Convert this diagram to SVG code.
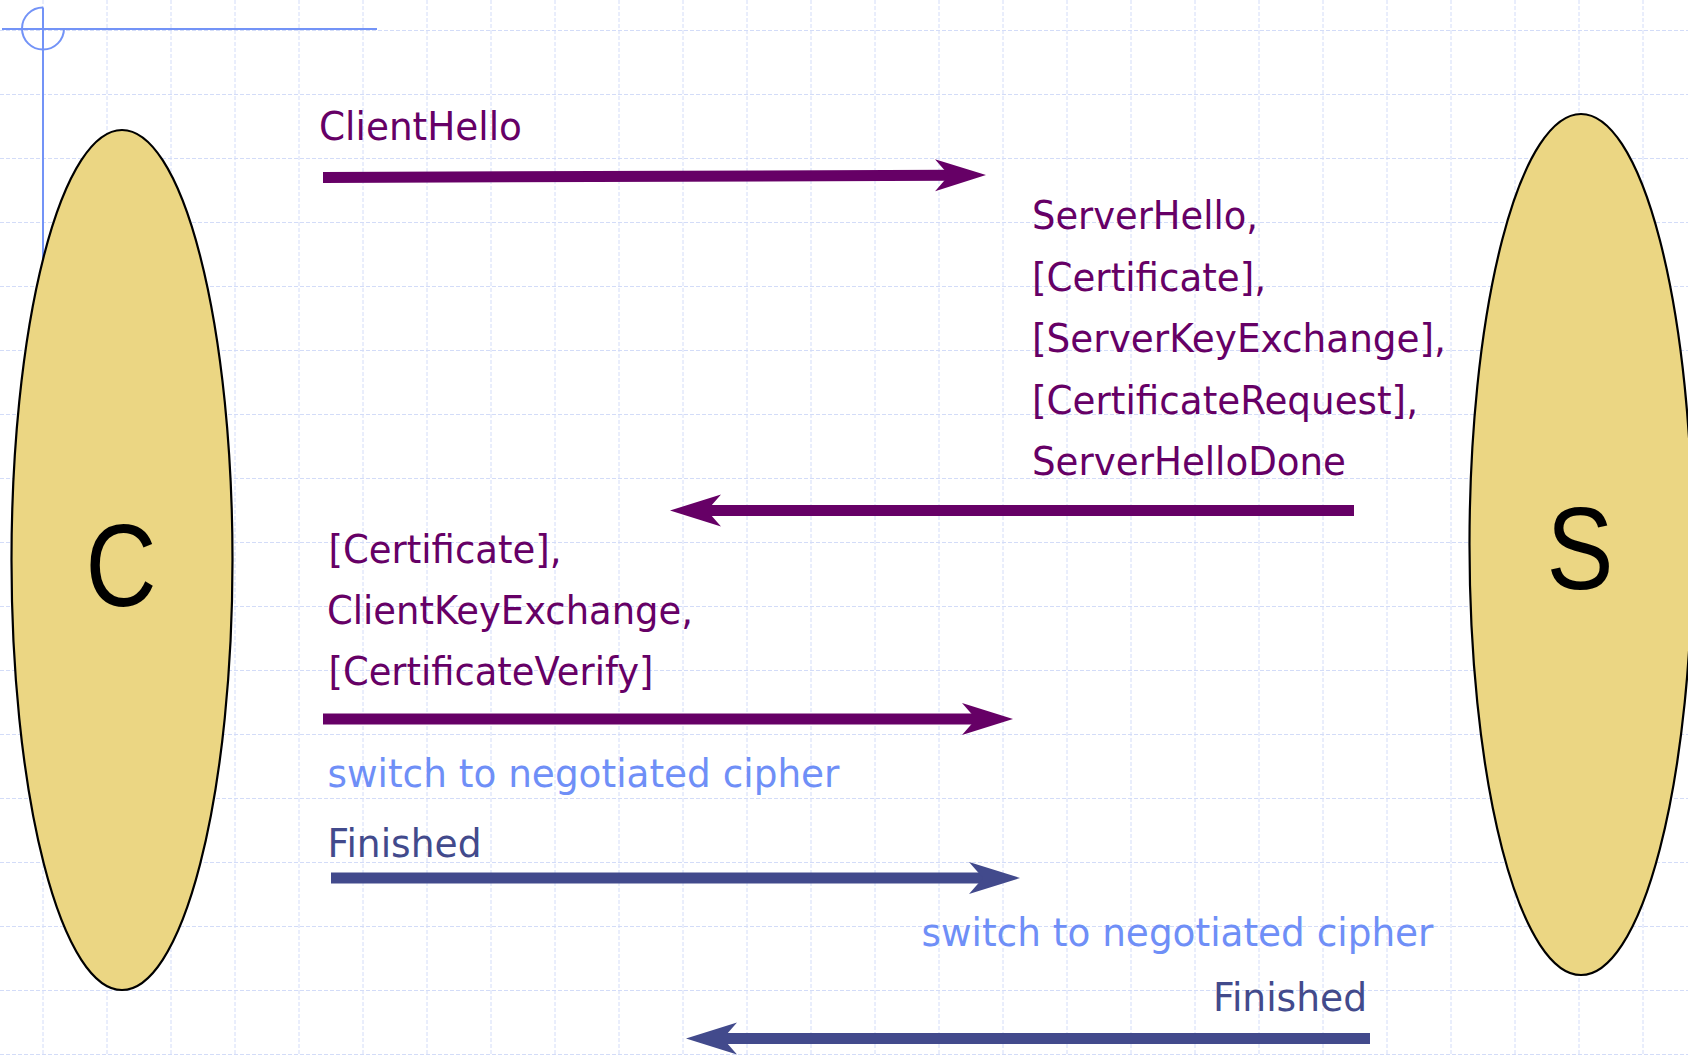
<svg xmlns="http://www.w3.org/2000/svg" width="1688" height="1055" viewBox="0 0 1688 1055">
<style>
.grid{fill:none;stroke:#d3dcf8;stroke-width:1;stroke-dasharray:4 2}
.guide{fill:none;stroke:#7393f7;stroke-width:2}
.node ellipse{fill:#ebd683;stroke:#000;stroke-width:2.2}
.node text{font-family:"Liberation Sans",Arial,sans-serif;font-size:116px;fill:#000;text-anchor:middle}
.msg{font-family:"DejaVu Sans",Verdana,sans-serif;font-size:38.5px}
.p{fill:#660066}
.b{fill:#424a8c}
.lb{fill:#6f8ff7}
.sp{fill:none;stroke:#660066;stroke-width:11}
.sb{fill:none;stroke:#424a8c;stroke-width:11}
</style>
<defs>
<marker id="hp" markerUnits="userSpaceOnUse" markerWidth="80" markerHeight="60" viewBox="-30 -30 80 60" refX="0" refY="0" orient="auto" overflow="visible">
<path d="M37,0 L-14,-16 L0,0 L-14,16 Z" fill="#660066"/>
</marker>
<marker id="hb" markerUnits="userSpaceOnUse" markerWidth="80" markerHeight="60" viewBox="-30 -30 80 60" refX="0" refY="0" orient="auto" overflow="visible">
<path d="M37,0 L-14,-16 L0,0 L-14,16 Z" fill="#424a8c"/>
</marker>
</defs>
<rect width="1688" height="1055" fill="#ffffff"/>
<path class="grid" d="M43,0V1055M107,0V1055M171,0V1055M235,0V1055M299,0V1055M363,0V1055M427,0V1055M491,0V1055M555,0V1055M619,0V1055M683,0V1055M747,0V1055M811,0V1055M875,0V1055M939,0V1055M1003,0V1055M1067,0V1055M1131,0V1055M1195,0V1055M1259,0V1055M1323,0V1055M1387,0V1055M1451,0V1055M1515,0V1055M1579,0V1055M1643,0V1055M0,30.5H1688M0,94.5H1688M0,158.5H1688M0,222.5H1688M0,286.5H1688M0,350.5H1688M0,414.5H1688M0,478.5H1688M0,542.5H1688M0,606.5H1688M0,670.5H1688M0,734.5H1688M0,798.5H1688M0,862.5H1688M0,926.5H1688M0,990.5H1688M0,1054.5H1688"/>
<g id="guides">
<path class="guide" d="M2,29H377M43,7.5V400"/>
<path class="guide" d="M43,7.5 A21,21 0 1,0 64,28.5"/>
</g>
<g id="node-C" class="node">
<ellipse cx="122" cy="560" rx="110.5" ry="430"/>
<text x="121" y="606" textLength="71" lengthAdjust="spacingAndGlyphs">C</text>
</g>
<g id="node-S" class="node">
<ellipse cx="1581" cy="544.5" rx="111.5" ry="430.5"/>
<text x="1580" y="589" textLength="67" lengthAdjust="spacingAndGlyphs">S</text>
</g>
<g id="connectors">
<path class="sp" d="M323,177.5 L949,175.2" marker-end="url(#hp)"/>
<path class="sp" d="M1354,510.5 L707,510.5" marker-end="url(#hp)"/>
<path class="sp" d="M323,719 L976,719" marker-end="url(#hp)"/>
<path class="sb" d="M331,878 L983,878" marker-end="url(#hb)"/>
<path class="sb" d="M1370,1038.5 L723,1038.5" marker-end="url(#hb)"/>
</g>
<g id="labels" class="msg">
<text class="p" x="319" y="140" textLength="203" lengthAdjust="spacingAndGlyphs">ClientHello</text>
<text class="p" x="1032" y="229" textLength="226" lengthAdjust="spacingAndGlyphs">ServerHello,</text>
<text class="p" x="1032" y="290.5" textLength="234" lengthAdjust="spacingAndGlyphs">[Certificate],</text>
<text class="p" x="1032" y="352" textLength="414" lengthAdjust="spacingAndGlyphs">[ServerKeyExchange],</text>
<text class="p" x="1032" y="413.5" textLength="386" lengthAdjust="spacingAndGlyphs">[CertificateRequest],</text>
<text class="p" x="1032" y="475" textLength="314" lengthAdjust="spacingAndGlyphs">ServerHelloDone</text>
<text class="p" x="328.5" y="563" textLength="233" lengthAdjust="spacingAndGlyphs">[Certificate],</text>
<text class="p" x="327" y="624" textLength="366" lengthAdjust="spacingAndGlyphs">ClientKeyExchange,</text>
<text class="p" x="328.5" y="685" textLength="325" lengthAdjust="spacingAndGlyphs">[CertificateVerify]</text>
<text class="lb" x="327.5" y="787" textLength="512" lengthAdjust="spacingAndGlyphs">switch to negotiated cipher</text>
<text class="b" x="327.5" y="857" textLength="154" lengthAdjust="spacingAndGlyphs">Finished</text>
<text class="lb" x="921.5" y="946" textLength="512" lengthAdjust="spacingAndGlyphs">switch to negotiated cipher</text>
<text class="b" x="1213" y="1011" textLength="154" lengthAdjust="spacingAndGlyphs">Finished</text>
</g>
</svg>
